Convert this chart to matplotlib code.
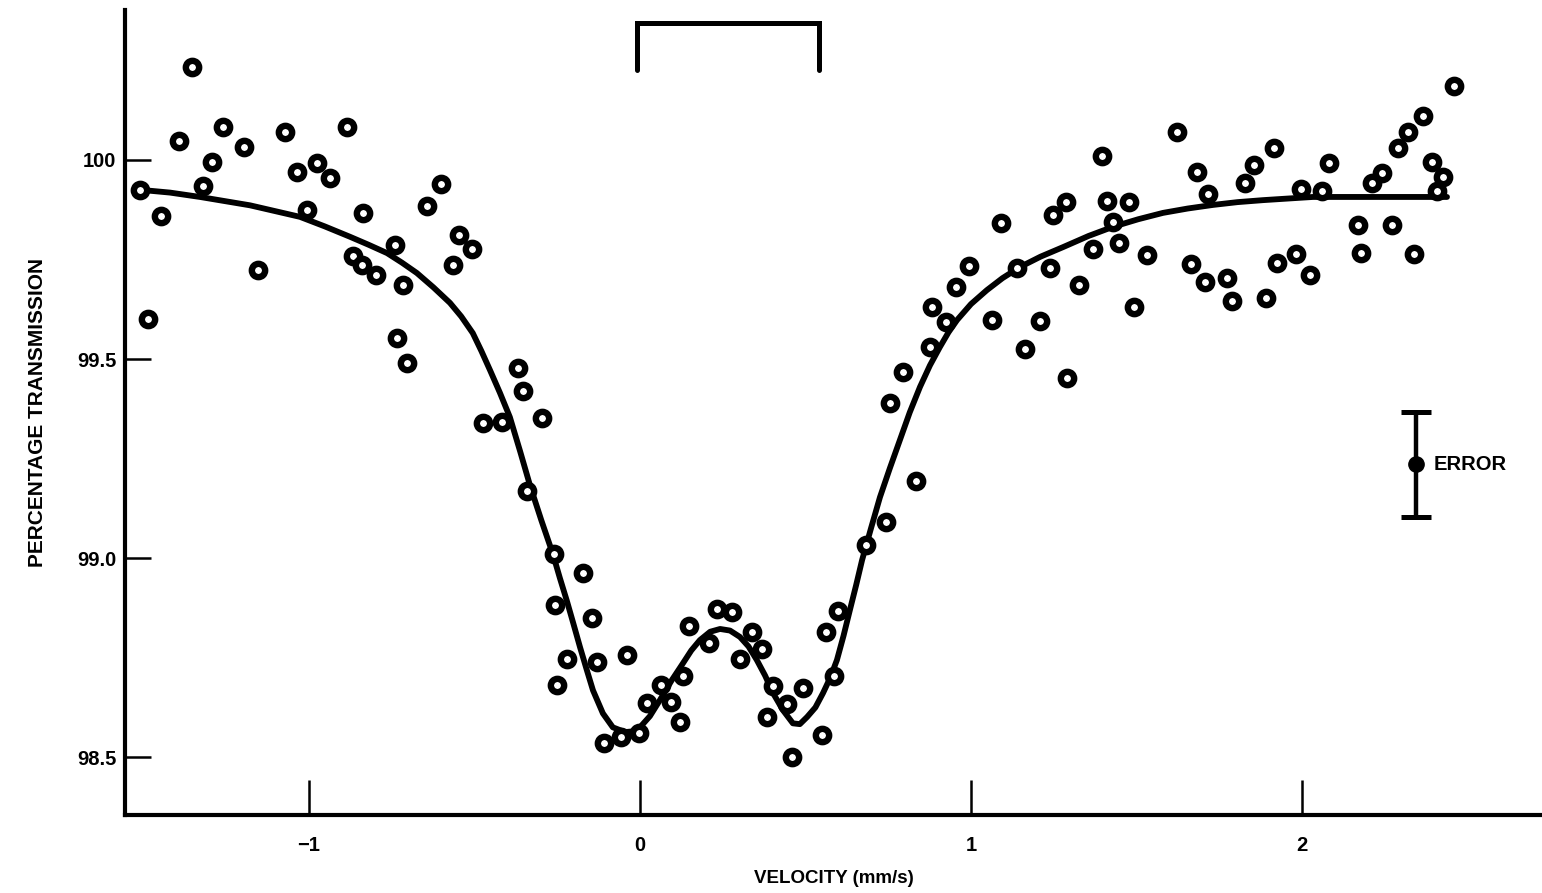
import matplotlib
matplotlib.use('Agg')
import matplotlib.pyplot as plt
import numpy as np

plt.rcParams['font.family'] = ['Liberation Sans', 'DejaVu Sans']

# measured points (velocity mm/s, % transmission)
vel = [-1.511, -1.486, -1.447, -1.353, -1.393, -1.320, -1.293, -1.260, -1.196, -1.154,
       -1.073, -1.036, -1.006, -0.976, -0.937, -0.886, -0.867, -0.837, -0.840, -0.798,
       -0.740, -0.734, -0.716, -0.704, -0.644, -0.601, -0.565, -0.547, -0.508, -0.474,
       -0.417, -0.369, -0.353, -0.296, -0.341, -0.260, -0.172, -0.257, -0.145, -0.221,
       -0.130, -0.039, -0.251, -0.109, -0.057, -0.003,
       0.021, 0.063, 0.094, 0.121, 0.130, 0.148, 0.208, 0.233, 0.278, 0.302,
       0.338, 0.369, 0.384, 0.402, 0.444, 0.459, 0.492, 0.550, 0.586, 0.562, 0.598,
       0.683, 0.743, 0.834, 0.755, 0.795, 0.876, 0.924, 0.882, 0.955, 0.994,
       1.091, 1.063, 1.139, 1.208, 1.163, 1.239, 1.290, 1.326, 1.248, 1.287,
       1.369, 1.411, 1.396, 1.477, 1.429, 1.447, 1.492, 1.532, 1.622, 1.683,
       1.716, 1.665, 1.707, 1.773, 1.789, 1.828, 1.855, 1.915, 1.891, 1.924,
       1.982, 2.024, 1.997, 2.060, 2.082, 2.169, 2.178, 2.211, 2.242, 2.272,
       2.338, 2.290, 2.320, 2.366, 2.459, 2.393, 2.426, 2.408]
trans = [99.925, 99.601, 99.859, 100.234, 100.048, 99.935, 99.995, 100.083, 100.033, 99.724,
         100.070, 99.970, 99.874, 99.992, 99.955, 100.083, 99.759, 99.867, 99.736, 99.711,
         99.786, 99.553, 99.686, 99.490, 99.884, 99.940, 99.736, 99.812, 99.776, 99.339,
         99.342, 99.477, 99.420, 99.352, 99.168, 99.010, 98.962, 98.882, 98.849, 98.746,
         98.739, 98.756, 98.681, 98.535, 98.550, 98.560,
         98.636, 98.681, 98.638, 98.588, 98.704, 98.829, 98.786, 98.872, 98.864, 98.746,
         98.814, 98.771, 98.601, 98.678, 98.633, 98.500, 98.673, 98.555, 98.704, 98.814, 98.867,
         99.033, 99.090, 99.193, 99.389, 99.467, 99.530, 99.593, 99.631, 99.681, 99.734,
         99.842, 99.598, 99.729, 99.595, 99.525, 99.729, 99.452, 99.686, 99.862, 99.894,
         99.776, 99.897, 100.010, 99.894, 99.844, 99.791, 99.631, 99.761, 100.070, 99.970,
         99.915, 99.739, 99.693, 99.704, 99.646, 99.942, 99.987, 100.030, 99.653, 99.741,
         99.764, 99.711, 99.927, 99.922, 99.992, 99.837, 99.766, 99.942, 99.967, 99.837,
         99.764, 100.030, 100.070, 100.111, 100.186, 99.995, 99.957, 99.922]

# fitted curve
fit_v = [-1.511, -1.420, -1.329, -1.178, -1.027, -0.952, -0.876, -0.820, -0.764, -0.719,
         -0.674, -0.624, -0.574, -0.540, -0.505, -0.479, -0.453, -0.423, -0.393, -0.362,
         -0.332, -0.298, -0.263, -0.242, -0.221, -0.201, -0.181, -0.161, -0.142, -0.112,
         -0.082, -0.045, -0.020, 0.000, 0.030, 0.060, 0.095, 0.130, 0.155, 0.181,
         0.212, 0.242, 0.272, 0.302, 0.328, 0.353, 0.378, 0.402, 0.432, 0.462,
         0.483, 0.505, 0.530, 0.553, 0.575, 0.595, 0.615, 0.634, 0.653, 0.671,
         0.698, 0.725, 0.755, 0.785, 0.815, 0.846, 0.876, 0.906, 0.932, 0.958,
         1.000, 1.048, 1.095, 1.148, 1.210, 1.278, 1.355, 1.429, 1.505, 1.580,
         1.655, 1.731, 1.805, 1.882, 1.957, 2.033, 2.135, 2.236, 2.337, 2.438]
fit_t = [99.925, 99.918, 99.907, 99.886, 99.857, 99.833, 99.807, 99.787, 99.766, 99.742,
         99.716, 99.680, 99.641, 99.607, 99.565, 99.520, 99.472, 99.415, 99.354, 99.268,
         99.182, 99.095, 99.010, 98.950, 98.893, 98.835, 98.776, 98.720, 98.668, 98.610,
         98.575, 98.563, 98.565, 98.575, 98.603, 98.643, 98.692, 98.736, 98.768, 98.794,
         98.815, 98.822, 98.818, 98.802, 98.778, 98.744, 98.705, 98.661, 98.618, 98.585,
         98.583, 98.601, 98.625, 98.661, 98.700, 98.744, 98.805, 98.869, 98.932, 98.995,
         99.075, 99.153, 99.226, 99.296, 99.366, 99.430, 99.484, 99.530, 99.567, 99.598,
         99.638, 99.673, 99.703, 99.731, 99.757, 99.781, 99.809, 99.832, 99.851, 99.867,
         99.878, 99.887, 99.894, 99.899, 99.903, 99.907, 99.907, 99.907, 99.907, 99.907]

xticks = [-1, 0, 1, 2]
xtick_labels = ['\u22121', '0', '1', '2']
yticks = [98.5, 99.0, 99.5, 100]
ytick_labels = ['98.5', '99.0', '99.5', '100']

bracket_v = [-0.01, 0.54]
bracket_top, bracket_low = 100.344, 100.226
err_v, err_mid, err_half = 2.344, 99.236, 0.132

fig = plt.figure(figsize=(15.42, 8.93), dpi=100)
ax = fig.add_axes([0.081, 0.087, 0.919, 0.902])

ax.plot(fit_v, fit_t, color='black', lw=4.2, solid_joinstyle='round', solid_capstyle='round', zorder=2)
ax.plot(vel, trans, 'o', ms=9.6, mfc='white', mec='black', mew=4.6, zorder=3)

# splitting bracket
ax.plot([bracket_v[0], bracket_v[0], bracket_v[1], bracket_v[1]],
        [bracket_low, bracket_top, bracket_top, bracket_low],
        color='black', lw=3.6, solid_capstyle='round', solid_joinstyle='miter', clip_on=False)

# error marker
ax.errorbar([err_v], [err_mid], yerr=[err_half], fmt='o', color='black', ms=11,
            elinewidth=3.2, capsize=11, capthick=3.6, zorder=4)
ax.text(err_v + 0.055, err_mid, 'ERROR', fontsize=14.5, fontweight='bold', va='center', ha='left')

ax.set_xlim(-1.556, 2.725)
ax.set_ylim(98.354, 100.377)

for s in ['top', 'right']:
    ax.spines[s].set_visible(False)
for s in ['left', 'bottom']:
    ax.spines[s].set_linewidth(3)

ax.set_xticks(xticks)
ax.set_xticklabels(xtick_labels)
ax.set_yticks(yticks)
ax.set_yticklabels(ytick_labels)
ax.tick_params(axis='x', direction='in', length=25, width=1.8, pad=15, labelsize=14.5)
ax.tick_params(axis='y', direction='in', length=19, width=1.8, pad=6, labelsize=14.5)
for lab in ax.get_xticklabels() + ax.get_yticklabels():
    lab.set_fontweight('bold')

ax.set_xlabel('VELOCITY (mm/s)', fontsize=13.5, fontweight='bold', labelpad=11)
ax.set_ylabel('PERCENTAGE TRANSMISSION', fontsize=15, fontweight='bold', labelpad=22)

fig.savefig('out.png', dpi=100)
